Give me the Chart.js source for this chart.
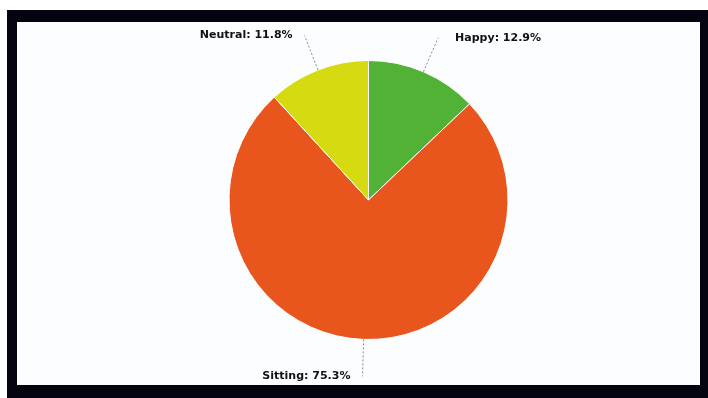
<!DOCTYPE html>
<html>
<head>
<meta charset="utf-8">
<script src="https://cdn.jsdelivr.net/npm/chart.js@4/dist/chart.umd.min.js"></script>
<style>
  html, body { margin: 0; padding: 0; background: #fff; }
  #frame { position: absolute; left: 7px; top: 10px; width: 701px; height: 388px; background: #03040f; }
  #wrap { position: absolute; left: 10px; top: 12px; width: 683px; height: 363px; background: #fbfdff; }
</style>
</head>
<body>
<div id="frame"><div id="wrap"><canvas id="pie"></canvas></div></div>
<script>
/* slices, clockwise from 12 o'clock */
const categories = ['Happy', 'Sitting', 'Neutral'];
const shares = [12.9, 75.3, 11.8];
const sliceColors = ['#52b235', '#e9561d', '#d6da10'];

// dotted leader + "Name: xx.x%" label for each slice
const outerLabels = {
  id: 'outerLabels',
  afterDatasetsDraw(chart) {
    const { ctx } = chart;
    const meta = chart.getDatasetMeta(0);
    ctx.save();
    meta.data.forEach((arc, i) => {
      const mid = (arc.startAngle + arc.endAngle) / 2;
      const cos = Math.cos(mid), sin = Math.sin(mid);
      const x0 = arc.x + cos * arc.outerRadius;
      const y0 = arc.y + sin * arc.outerRadius;
      const x1 = arc.x + cos * (arc.outerRadius + 37);
      const y1 = arc.y + sin * (arc.outerRadius + 37);
      ctx.strokeStyle = '#8a8a8a';
      ctx.lineWidth = 1;
      ctx.setLineDash([2, 2]);
      ctx.beginPath();
      ctx.moveTo(x0, y0);
      ctx.lineTo(x1, y1);
      ctx.stroke();
      ctx.setLineDash([]);
      const right = cos >= 0 && Math.abs(cos) > 0.05;
      ctx.font = 'bold 11px "DejaVu Sans", sans-serif';
      ctx.fillStyle = '#111111';
      ctx.textBaseline = 'middle';
      ctx.textAlign = right ? 'left' : 'right';
      const txt = categories[i] + ': ' + shares[i].toFixed(1) + '%';
      ctx.fillText(txt, right ? x1 + 17 : x1 - 12, y1);
    });
    ctx.restore();
  }
};

new Chart(document.getElementById('pie'), {
  type: 'pie',
  data: {
    labels: categories,
    datasets: [{
      data: shares,
      backgroundColor: sliceColors,
      borderColor: '#ffffff',
      borderWidth: 1,
    }]
  },
  options: {
    responsive: true,
    maintainAspectRatio: false,
    animation: false,
    layout: { padding: { left: 20, right: 0, top: 38, bottom: 45 } },
    plugins: {
      legend: { display: false },
      tooltip: { enabled: false }
    }
  },
  plugins: [outerLabels]
});
</script>
</body>
</html>
